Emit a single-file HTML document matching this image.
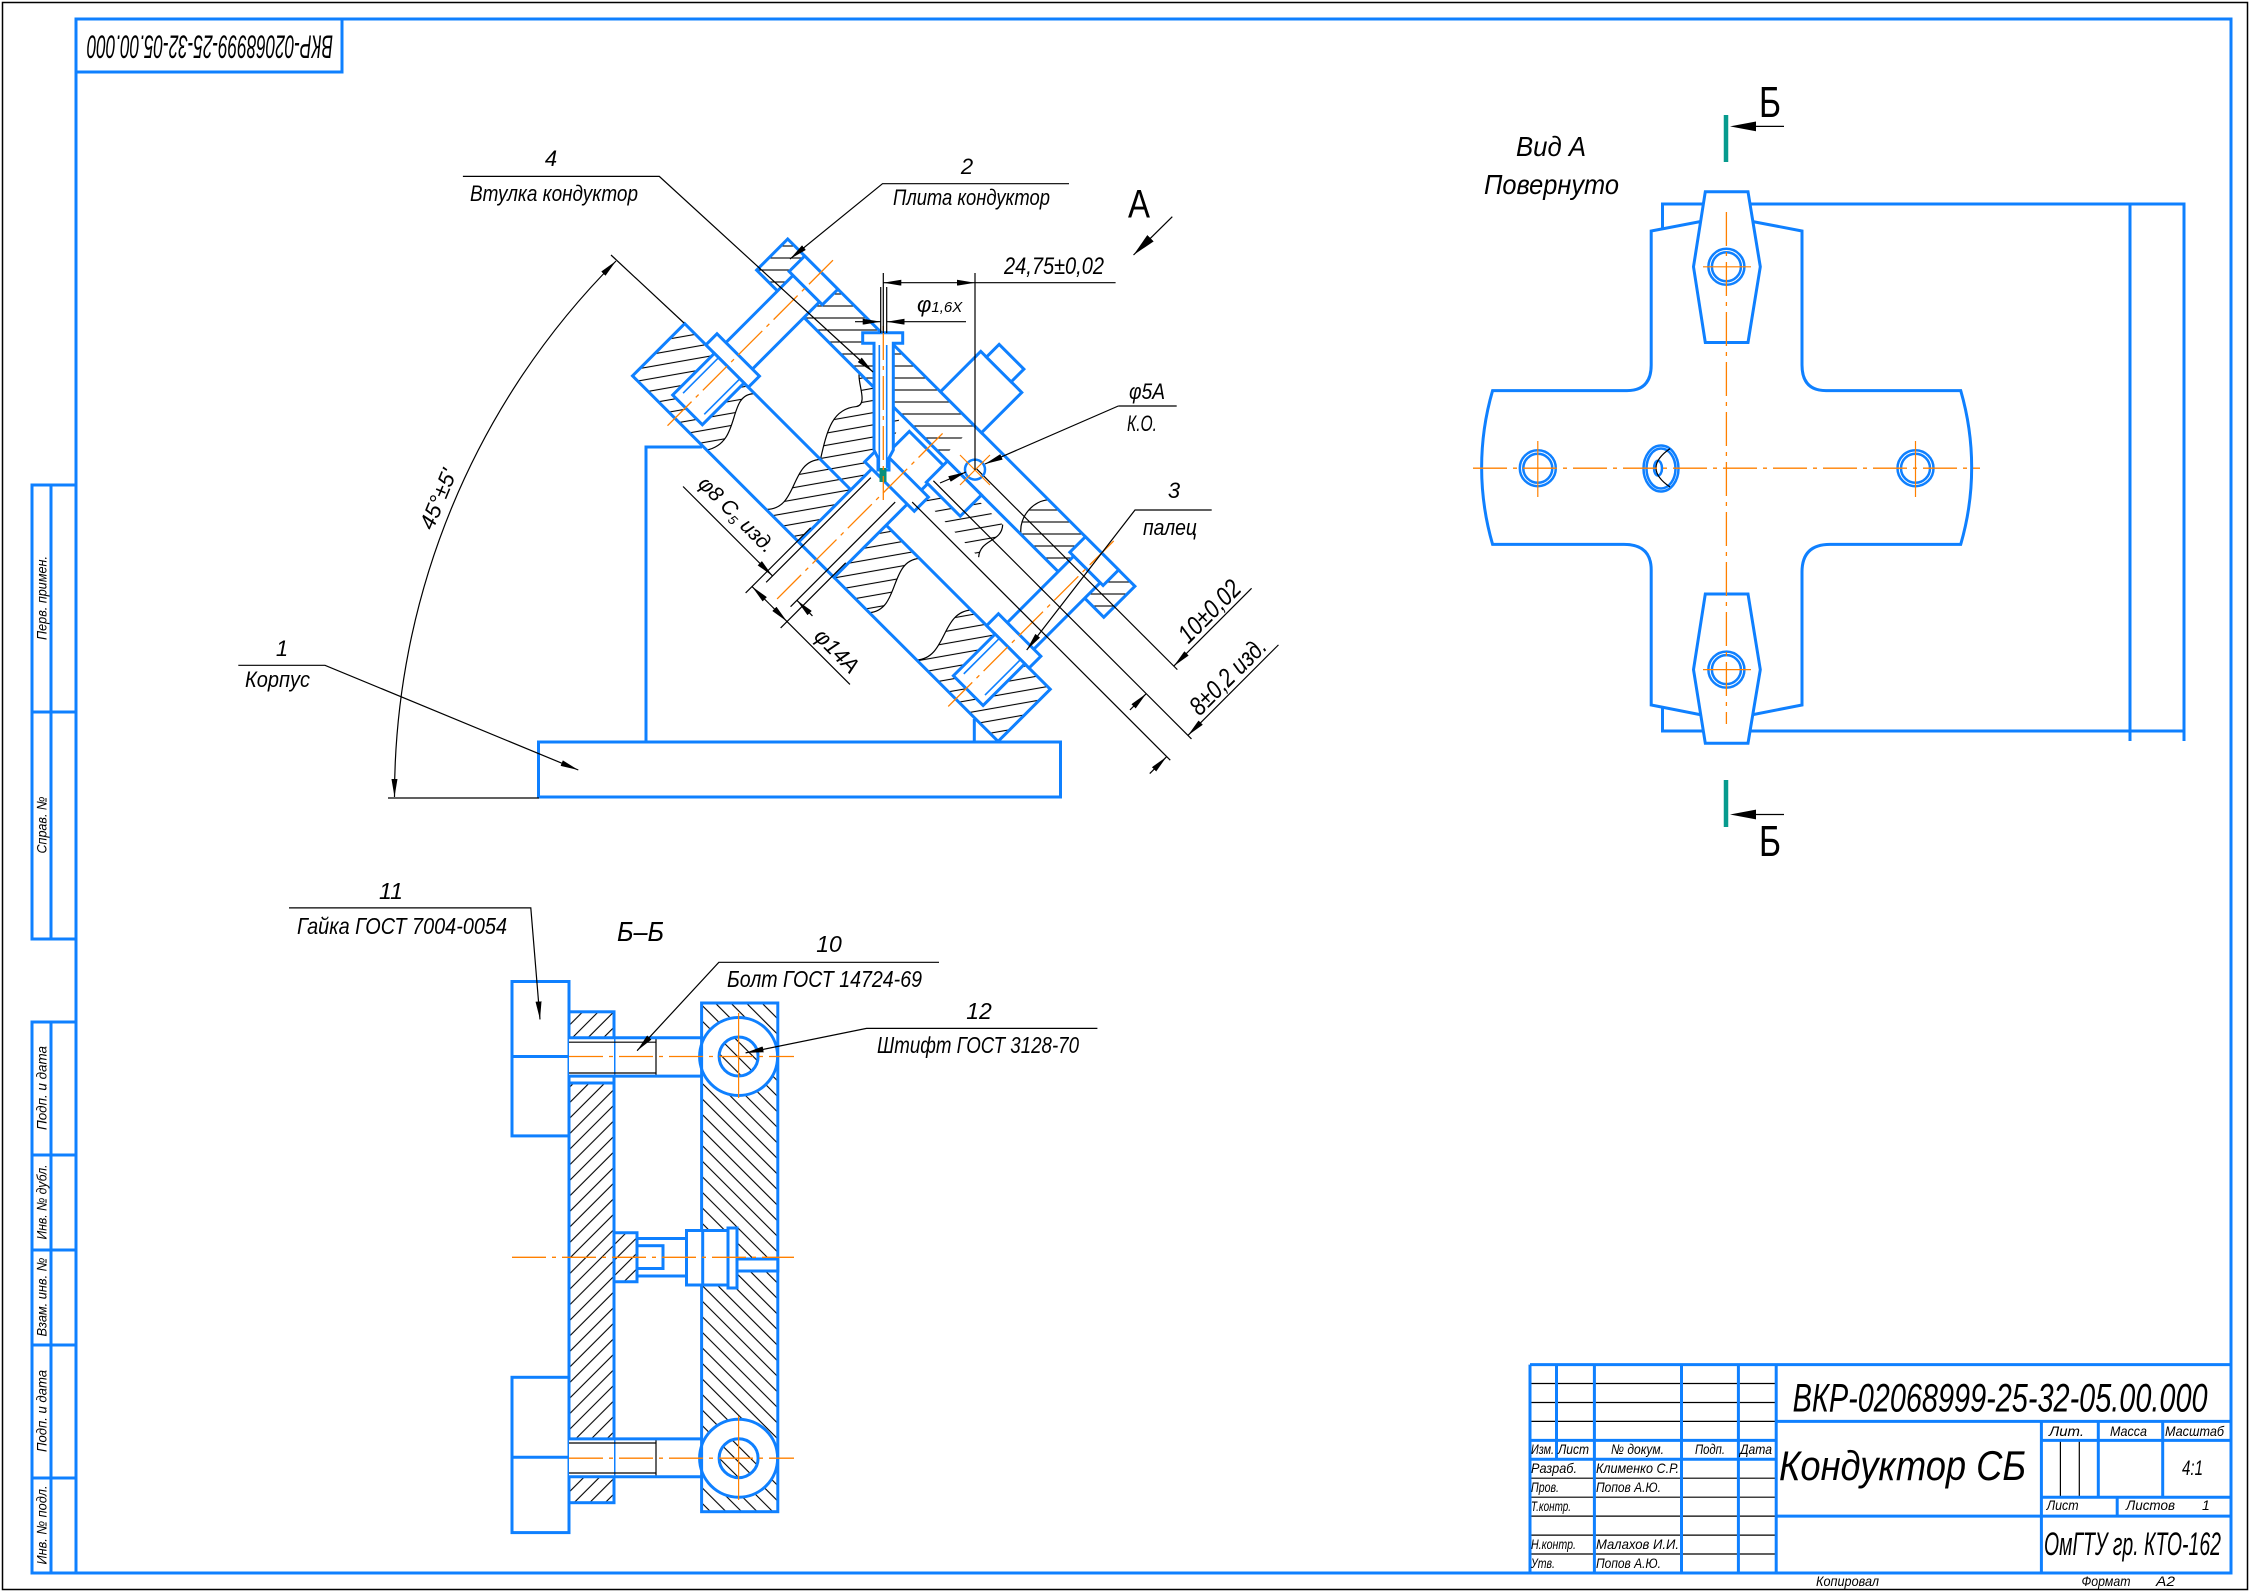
<!DOCTYPE html>
<html><head><meta charset="utf-8">
<style>
html,body{margin:0;padding:0;background:#fff}
svg{display:block}
text{font-family:"Liberation Sans","DejaVu Sans",sans-serif;font-style:italic;fill:#000}
.b{stroke:#0f80ff;stroke-width:3;fill:none}
.bf{stroke:#0f80ff;stroke-width:3;fill:#fff}
.bt{stroke:#0f80ff;stroke-width:1.6;fill:none}
.k{stroke:#000;stroke-width:1.2;fill:none}
.c{stroke:#ff8000;stroke-width:1.3;fill:none;stroke-dasharray:34 6 4 6}
.cs{stroke:#ff8000;stroke-width:1.2;fill:none}
.tl{stroke:#079b8e;stroke-width:4.5;fill:none}
</style></head><body>
<svg width="2250" height="1592" viewBox="0 0 2250 1592" xmlns="http://www.w3.org/2000/svg">
<defs>
 <pattern id="hf" patternUnits="userSpaceOnUse" width="11" height="11" patternTransform="rotate(-45)"><line x1="0" y1="5.5" x2="11" y2="5.5" stroke="#000" stroke-width="1.1"/></pattern>
 <pattern id="hb" patternUnits="userSpaceOnUse" width="11" height="11" patternTransform="rotate(45)"><line x1="0" y1="5.5" x2="11" y2="5.5" stroke="#000" stroke-width="1.1"/></pattern>
 <pattern id="hr" patternUnits="userSpaceOnUse" width="12" height="12" patternTransform="rotate(-55)"><line x1="0" y1="6" x2="12" y2="6" stroke="#000" stroke-width="1.1"/></pattern>
 <pattern id="hr0" patternUnits="userSpaceOnUse" width="12" height="12" patternTransform="rotate(-45)"><line x1="0" y1="6" x2="12" y2="6" stroke="#000" stroke-width="1.1"/></pattern>
 <marker id="a" viewBox="0 0 18 6" refX="18" refY="3" markerWidth="18" markerHeight="6" markerUnits="userSpaceOnUse" orient="auto"><path d="M0,0 L18,3 L0,6 Z" fill="#000"/></marker>
 <marker id="as" viewBox="0 0 18 6" refX="18" refY="3" markerWidth="18" markerHeight="6" markerUnits="userSpaceOnUse" orient="auto-start-reverse"><path d="M0,0 L18,3 L0,6 Z" fill="#000"/></marker>
 <marker id="aB" viewBox="0 0 24 9" refX="24" refY="4.5" markerWidth="24" markerHeight="9" markerUnits="userSpaceOnUse" orient="auto"><path d="M0,0 L24,4.5 L0,9 Z" fill="#000"/></marker>
</defs>

<rect x="2.5" y="2.5" width="2245" height="1587" fill="none" stroke="#000" stroke-width="1.5"/>
<rect x="76" y="19" width="2155" height="1554" class="b"/>

<rect x="76" y="19" width="266" height="53" class="b"/>
<text transform="translate(210,47.5) rotate(180)" x="0" y="12" text-anchor="middle" font-size="32" textLength="246" lengthAdjust="spacingAndGlyphs">ВКР-02068999-25-32-05.00.000</text>

<g class="b">
 <rect x="32" y="485" width="44" height="454"/>
 <line x1="51" y1="485" x2="51" y2="939"/>
 <line x1="32" y1="712" x2="76" y2="712"/>
 <rect x="32" y="1022" width="44" height="551"/>
 <line x1="51" y1="1022" x2="51" y2="1573"/>
 <line x1="32" y1="1155" x2="76" y2="1155"/>
 <line x1="32" y1="1250" x2="76" y2="1250"/>
 <line x1="32" y1="1345" x2="76" y2="1345"/>
 <line x1="32" y1="1478" x2="76" y2="1478"/>
</g>
<g font-size="14" text-anchor="middle">
 <text transform="translate(46.5,598) rotate(-90)" textLength="84" lengthAdjust="spacingAndGlyphs">Перв. примен.</text>
 <text transform="translate(46.5,825) rotate(-90)" textLength="57" lengthAdjust="spacingAndGlyphs">Справ. №</text>
 <text transform="translate(46.5,1088) rotate(-90)" textLength="84" lengthAdjust="spacingAndGlyphs">Подп. и дата</text>
 <text transform="translate(46.5,1202) rotate(-90)" textLength="75" lengthAdjust="spacingAndGlyphs">Инв. № дубл.</text>
 <text transform="translate(46.5,1297) rotate(-90)" textLength="79" lengthAdjust="spacingAndGlyphs">Взам. инв. №</text>
 <text transform="translate(46.5,1411) rotate(-90)" textLength="82" lengthAdjust="spacingAndGlyphs">Подп. и дата</text>
 <text transform="translate(46.5,1525) rotate(-90)" textLength="79" lengthAdjust="spacingAndGlyphs">Инв. № подл.</text>
</g>

<g class="k">
 <line x1="1530" y1="1383.5" x2="1776.2" y2="1383.5"/>
 <line x1="1530" y1="1402.5" x2="1776.2" y2="1402.5"/>
 <line x1="1530" y1="1421.4" x2="1776.2" y2="1421.4"/>
 <line x1="1530" y1="1478.2" x2="1776.2" y2="1478.2"/>
 <line x1="1530" y1="1497.2" x2="1776.2" y2="1497.2"/>
 <line x1="1530" y1="1516.1" x2="1776.2" y2="1516.1"/>
 <line x1="1530" y1="1535.1" x2="1776.2" y2="1535.1"/>
 <line x1="1530" y1="1554" x2="1776.2" y2="1554"/>
 <line x1="2060.4" y1="1440.4" x2="2060.4" y2="1497.2"/>
 <line x1="2079.3" y1="1440.4" x2="2079.3" y2="1497.2"/>
</g>
<g class="b">
 <line x1="1530" y1="1364.6" x2="2231" y2="1364.6"/>
 <line x1="1530" y1="1364.6" x2="1530" y2="1573"/>
 <line x1="1556.5" y1="1364.6" x2="1556.5" y2="1459.3"/>
 <line x1="1594.4" y1="1364.6" x2="1594.4" y2="1573"/>
 <line x1="1681.5" y1="1364.6" x2="1681.5" y2="1573"/>
 <line x1="1738.4" y1="1364.6" x2="1738.4" y2="1573"/>
 <line x1="1776.2" y1="1364.6" x2="1776.2" y2="1573"/>
 <line x1="2041.4" y1="1421.4" x2="2041.4" y2="1573"/>
 <line x1="1530" y1="1440.4" x2="1776.2" y2="1440.4"/>
 <line x1="1530" y1="1459.3" x2="1776.2" y2="1459.3"/>
 <line x1="1776.2" y1="1421.4" x2="2231" y2="1421.4"/>
 <line x1="2041.4" y1="1440.4" x2="2231" y2="1440.4"/>
 <line x1="2041.4" y1="1497.2" x2="2231" y2="1497.2"/>
 <line x1="1776.2" y1="1516.1" x2="2231" y2="1516.1"/>
 <line x1="2098.3" y1="1421.4" x2="2098.3" y2="1497.2"/>
 <line x1="2162.7" y1="1421.4" x2="2162.7" y2="1497.2"/>
 <line x1="2117.2" y1="1497.2" x2="2117.2" y2="1516.1"/>
</g>
<text x="1792.6" y="1411.7" font-size="40" textLength="415" lengthAdjust="spacingAndGlyphs">ВКР-02068999-25-32-05.00.000</text>
<text x="1779" y="1480" font-size="42" textLength="247" lengthAdjust="spacingAndGlyphs">Кондуктор СБ</text>
<text x="2044" y="1555" font-size="32" textLength="177" lengthAdjust="spacingAndGlyphs">ОмГТУ гр. КТО-162</text>
<g font-size="14">
 <text x="1531" y="1454" textLength="23" lengthAdjust="spacingAndGlyphs">Изм.</text>
 <text x="1558" y="1454" textLength="31" lengthAdjust="spacingAndGlyphs">Лист</text>
 <text x="1611" y="1454" textLength="53" lengthAdjust="spacingAndGlyphs">№ докум.</text>
 <text x="1695" y="1454" textLength="30" lengthAdjust="spacingAndGlyphs">Подп.</text>
 <text x="1740" y="1454" textLength="32" lengthAdjust="spacingAndGlyphs">Дата</text>
 <text x="1531" y="1473" textLength="46" lengthAdjust="spacingAndGlyphs">Разраб.</text>
 <text x="1596" y="1473" textLength="83" lengthAdjust="spacingAndGlyphs">Клименко С.Р.</text>
 <text x="1531" y="1492" textLength="28" lengthAdjust="spacingAndGlyphs">Пров.</text>
 <text x="1596" y="1492" textLength="65" lengthAdjust="spacingAndGlyphs">Попов А.Ю.</text>
 <text x="1531" y="1511" textLength="40" lengthAdjust="spacingAndGlyphs">Т.контр.</text>
 <text x="1531" y="1549" textLength="45" lengthAdjust="spacingAndGlyphs">Н.контр.</text>
 <text x="1596" y="1549" textLength="83" lengthAdjust="spacingAndGlyphs">Малахов И.И.</text>
 <text x="1531" y="1568" textLength="24" lengthAdjust="spacingAndGlyphs">Утв.</text>
 <text x="1596" y="1568" textLength="65" lengthAdjust="spacingAndGlyphs">Попов А.Ю.</text>
 <text x="2049" y="1436" textLength="35" lengthAdjust="spacingAndGlyphs">Лит.</text>
 <text x="2110" y="1436" textLength="37" lengthAdjust="spacingAndGlyphs">Масса</text>
 <text x="2165" y="1436" textLength="59" lengthAdjust="spacingAndGlyphs">Масштаб</text>
 <text x="2046.6" y="1510" textLength="32" lengthAdjust="spacingAndGlyphs">Лист</text>
 <text x="2126" y="1510" textLength="49" lengthAdjust="spacingAndGlyphs">Листов</text>
 <text x="2202" y="1510">1</text>
 <text x="1816" y="1586" textLength="63" lengthAdjust="spacingAndGlyphs">Копировал</text>
 <text x="2081.5" y="1586" textLength="49" lengthAdjust="spacingAndGlyphs">Формат</text>
 <text x="2156" y="1586" textLength="19" lengthAdjust="spacingAndGlyphs">А2</text>
</g>
<text x="2182" y="1475" font-size="21" textLength="21" lengthAdjust="spacingAndGlyphs">4:1</text>

<rect x="538.5" y="742" width="522" height="55" class="b"/>
<path d="M646,742 V447 H702" class="b"/>
<path d="M974.3,719 V742" class="b"/>

<g transform="rotate(45)">
 <path d="M713,-255.3 L812,-255.3 C792,-235 838,-212 818,-181.5 L713,-181.5 Z" fill="url(#hr)"/>
 <path d="M872,-343 L930,-343 L985,-255.3 L1045,-255.3 C1025,-232 1068,-205 1048,-181.5 L902,-181.5 C925,-205 884,-232 905,-255.3 C888,-282 878,-300 893,-318 C900,-328 878,-335 872,-343 Z" fill="url(#hr)"/>
 <path d="M1118,-255.3 L1230,-255.3 L1230,-181.5 L1115,-181.5 C1135,-205 1098,-232 1118,-255.3 Z" fill="url(#hr)"/>
 <rect x="726" y="-388" width="264" height="44" fill="url(#hr0)"/>
 <path d="M1095,-388 L1217,-388 L1217,-344 L1100,-344 C1085,-355 1085,-378 1095,-388 Z" fill="url(#hr0)"/>
 <path d="M1005,-338 L1080,-338 C1092,-325 1074,-312 1086,-298 L1008,-300 Z" fill="url(#hr)"/>
 <g class="k">
  <path d="M812,-255.3 C792,-235 838,-212 818,-181.5"/>
  <path d="M1045,-255.3 C1025,-232 1068,-205 1048,-181.5"/>
  <path d="M902,-181.5 C925,-205 884,-232 905,-255.3 C888,-282 878,-300 893,-318 C900,-328 878,-335 872,-343"/>
  <path d="M1115,-181.5 C1135,-205 1098,-232 1118,-255.3"/>
  <path d="M1080,-338 C1092,-325 1074,-312 1086,-298"/>
  <path d="M1100,-344 C1085,-355 1085,-378 1095,-388"/>
 </g>
 <rect x="713" y="-255.3" width="517" height="73.8" class="b"/>
 <rect x="726" y="-388" width="491" height="44" class="b"/>
 <rect x="755.5" y="-366" width="37.5" height="95" class="bf"/>
 <rect x="750" y="-388" width="47" height="22" class="bf"/>
 <rect x="743" y="-271" width="60" height="15.7" class="bf"/>
 <rect x="755" y="-255.3" width="42" height="59" class="bf"/>
 <path d="M761,-255 V-205 M791,-255 V-205" class="bt"/>
 <line x1="773" y1="-405" x2="773" y2="-170" class="c"/>
 <rect x="1152.5" y="-366" width="37.5" height="95" class="bf"/>
 <rect x="1147" y="-388" width="47" height="22" class="bf"/>
 <rect x="1140" y="-272" width="60" height="16.7" class="bf"/>
 <rect x="1152" y="-255.3" width="42" height="59" class="bf"/>
 <path d="M1158,-255 V-205 M1188,-255 V-205" class="bt"/>
 <line x1="1170" y1="-405" x2="1170" y2="-170" class="c"/>
 <rect x="948" y="-338" width="50" height="156.5" class="bf"/>
 <rect x="938" y="-305" width="70" height="20" class="bf"/>
 <line x1="973" y1="-360" x2="973" y2="-125" class="c"/>
 <rect x="942" y="-445" width="58" height="57" class="bf"/>
 <rect x="950" y="-463" width="35" height="18" class="bf"/>
 <rect x="996" y="-344" width="48" height="30" class="bf"/>
 <g class="k">
  <path d="M1022,-359 H1306"/>
  <path d="M1000,-320 H1365"/>
  <path d="M1000,-290 H1365"/>
  <path d="M953.5,-278 V-130"/>
  <path d="M988,-278 V-130"/>
  <path d="M946.5,-200 V-108"/>
  <path d="M996,-200 V-108"/>
  <path d="M1301,-469 V-359" marker-end="url(#a)"/>
  <path d="M1301,-297 V-320" marker-end="url(#a)"/>
  <path d="M1360,-448 V-320" marker-end="url(#a)"/>
  <path d="M1360,-266 V-290" marker-end="url(#a)"/>
  <path d="M827,-139 H953.5" marker-end="url(#a)"/>
  <path d="M1010,-139 H988" marker-end="url(#a)"/>
  <path d="M971,-117 H946.5" marker-end="url(#a)"/>
  <path d="M971,-117 H996" marker-end="url(#a)"/>
  <path d="M996,-117 H1085"/>
 </g>
</g>

<path d="M862.7,332.7 H902.7 V343.3 H893.3 V450 L889,458 V470 H878 V458 L874,450 V343.3 H862.7 Z" class="bf"/>
<path d="M879.3,345 V468 M886.7,345 V468" class="bt"/>
<rect x="879.5" y="468" width="7" height="14" fill="#0a8f7a"/>
<line x1="883.3" y1="326" x2="883.3" y2="500" class="c"/>

<circle cx="975" cy="469.6" r="10" class="b" style="stroke-width:2.5"/>
<path d="M960,455 L990,485 M990,455 L960,485" class="cs"/>

<g class="k">
 <path d="M883.3,273 V333"/>
 <path d="M975,273 V470"/>
 <path d="M930,282.7 H883.3" marker-end="url(#a)"/>
 <path d="M930,282.7 H975" marker-end="url(#a)"/>
 <path d="M975,282.7 H1115.6"/>
 <path d="M880.7,287 V333 M886.7,287 V333"/>
 <path d="M855,321.7 H880.7" marker-end="url(#a)"/>
 <path d="M966,321.7 H886.7" marker-end="url(#a)"/>
 <path d="M1118.3,406 H1176.7"/>
 <path d="M1118.3,406 L985,464" marker-end="url(#a)"/>
 <path d="M940,483 L966,472" marker-end="url(#a)"/>
 <path d="M394.5,797 A758,758 0 0 1 616,261" marker-start="url(#as)" marker-end="url(#a)"/>
 <path d="M388,798 H539"/>
 <path d="M611,255 L684,323"/>
 <path d="M462.9,176.4 H659.3 L873,372" marker-end="url(#a)"/>
 <path d="M1069,183.7 H882.5 L790,259" marker-end="url(#a)"/>
 <path d="M1211.7,510 H1135 L1026.7,650" marker-end="url(#a)"/>
 <path d="M238.3,665.3 H325 L578.3,770" marker-end="url(#a)"/>
 <path d="M1172.3,216.7 L1133.5,255" marker-end="url(#aB)"/>
</g>

<g font-size="22">
 <text x="551" y="166" text-anchor="middle">4</text>
 <text x="470" y="201" textLength="168" lengthAdjust="spacingAndGlyphs">Втулка кондуктор</text>
 <text x="967" y="174" text-anchor="middle">2</text>
 <text x="893" y="205" textLength="157" lengthAdjust="spacingAndGlyphs">Плита кондуктор</text>
 <text x="1174" y="498" text-anchor="middle">3</text>
 <text x="1143" y="535" textLength="54" lengthAdjust="spacingAndGlyphs">палец</text>
 <text x="282" y="656" text-anchor="middle">1</text>
 <text x="245" y="687" textLength="65" lengthAdjust="spacingAndGlyphs">Корпус</text>
</g>
<text x="1139" y="217.5" font-size="40" text-anchor="middle" style="font-style:normal" textLength="22" lengthAdjust="spacingAndGlyphs">А</text>
<text x="1004" y="274" font-size="24" textLength="100" lengthAdjust="spacingAndGlyphs">24,75±0,02</text>
<text x="917" y="312" font-size="22">φ<tspan font-size="15">1,6X</tspan></text>
<text x="1129" y="399" font-size="22" textLength="36" lengthAdjust="spacingAndGlyphs">φ5A</text>
<text x="1127" y="431" font-size="22" textLength="30" lengthAdjust="spacingAndGlyphs">К.О.</text>
<text transform="translate(1215.6,617.4) rotate(-45)" text-anchor="middle" font-size="26" textLength="77" lengthAdjust="spacingAndGlyphs">10±0,02</text>
<text transform="translate(1234,682.4) rotate(-45)" text-anchor="middle" font-size="26" textLength="97" lengthAdjust="spacingAndGlyphs">8±0,2 изд.</text>
<text transform="translate(731.7,519.6) rotate(45)" text-anchor="middle" font-size="21">φ8 C<tspan font-size="13" dy="4">5</tspan><tspan dy="-4"> изд.</tspan></text>
<text transform="translate(831.6,656.2) rotate(45)" text-anchor="middle" font-size="22" textLength="53" lengthAdjust="spacingAndGlyphs">φ14A</text>
<text transform="translate(444.9,502) rotate(-67.4)" text-anchor="middle" font-size="22" textLength="63" lengthAdjust="spacingAndGlyphs">45°±5'</text>

<g class="b">
 <path d="M1662.5,232 V204 H2184 V741"/>
 <path d="M2130,204 V741"/>
 <path d="M1662.5,704 V731 H2184"/>
 <path class="bf" d="M1651.2,365 V231 L1700,221.6 L1753,221.6 L1802,231 V365 Q1802,390.6 1826,390.6 H1960.7 A275,275 0 0 1 1960.7,544.4 H1830 Q1802,544.4 1802,572 V705 L1753,714.6 L1700,714.6 L1651.2,705 V570 Q1651.2,544.4 1624,544.4 H1492.6 A275,275 0 0 1 1492.6,390.6 H1627 Q1651.2,390.6 1651.2,365 Z"/>
 <path class="bf" d="M1705.3,191.7 H1748 L1760.3,266.8 L1748,342.5 H1705.3 L1693.5,266.8 Z"/>
 <path class="bf" d="M1705.3,594 H1748 L1760.3,669.6 L1748,743.3 H1705.3 L1693.5,669.6 Z"/>
</g>
<g class="b" style="stroke-width:2.5">
 <circle cx="1726.4" cy="266.8" r="18"/><circle cx="1726.4" cy="266.8" r="14.5"/>
 <circle cx="1726.4" cy="669.6" r="18"/><circle cx="1726.4" cy="669.6" r="14.5"/>
 <circle cx="1537.8" cy="468.2" r="18"/><circle cx="1537.8" cy="468.2" r="14.5"/>
 <circle cx="1915.5" cy="468.2" r="18"/><circle cx="1915.5" cy="468.2" r="14.5"/>
 <ellipse cx="1661" cy="468.5" rx="17.5" ry="23"/>
 <ellipse cx="1661" cy="468.5" rx="14.5" ry="20"/>
 <ellipse cx="1658" cy="468.2" rx="4" ry="7.4"/>
</g>
<path d="M1670,448.6 Q1642,468 1670,487" class="k"/>
<line x1="1473" y1="468.2" x2="1980" y2="468.2" class="c"/>
<line x1="1726.4" y1="212" x2="1726.4" y2="724" class="c"/>
<path d="M1537.8,441 V497 M1915.5,441 V497 M1703,266.8 H1751 M1703,669.6 H1751" class="cs"/>
<text x="1516" y="156" font-size="28" textLength="70" lengthAdjust="spacingAndGlyphs">Вид А</text>
<text x="1484" y="194" font-size="28" textLength="135" lengthAdjust="spacingAndGlyphs">Повернуто</text>
<path d="M1726,115 V162 M1726,780 V827" class="tl"/>
<path d="M1784,126.4 H1740 M1784,814.5 H1740" class="k"/>
<path d="M1730,126.4 L1756,121.5 L1756,131.3 Z M1730,814.5 L1756,809.6 L1756,819.4 Z" fill="#000"/>
<text x="1759" y="117" font-size="44" style="font-style:normal" textLength="22" lengthAdjust="spacingAndGlyphs">Б</text>
<text x="1759" y="856" font-size="44" style="font-style:normal" textLength="22" lengthAdjust="spacingAndGlyphs">Б</text>

<rect x="569" y="1011.8" width="45" height="25.9" fill="url(#hf)"/>
<rect x="569" y="1083" width="45" height="356" fill="url(#hf)"/>
<rect x="569" y="1476.8" width="45" height="25.9" fill="url(#hf)"/>
<rect x="614" y="1232.7" width="23" height="49.1" fill="url(#hf)"/>
<rect x="701.6" y="1003" width="76.2" height="508.7" fill="url(#hb)"/>
<g class="bf">
 <circle cx="738.6" cy="1056.5" r="39"/>
 <circle cx="738.6" cy="1458.2" r="39"/>
</g>
<circle cx="738.6" cy="1056.5" r="19.5" class="b" style="fill:url(#hb)"/>
<circle cx="738.6" cy="1458.2" r="19.5" class="b" style="fill:url(#hb)"/>
<g class="b">
 <rect x="512" y="981.5" width="57" height="154.4"/>
 <line x1="512" y1="1056.5" x2="569" y2="1056.5"/>
 <rect x="512" y="1377.3" width="57" height="155.3"/>
 <line x1="512" y1="1457.2" x2="569" y2="1457.2"/>
 <rect x="569" y="1011.8" width="45" height="490.9"/>
 <path d="M614,1232.7 H637 V1281.8 H614"/>
 <rect x="701.6" y="1003" width="76.2" height="508.7"/>
</g>
<rect x="569" y="1038.5" width="45" height="37" fill="#fff"/>
<rect x="569" y="1439.7" width="45" height="36.3" fill="#fff"/>
<g class="k">
 <path d="M569,1042.2 H656 M569,1073 H656 M656,1037.7 V1076.1"/>
 <path d="M569,1443 H656 M569,1473 H656 M656,1438.9 V1476.8"/>
</g>
<path d="M569,1037.7 H701.6 M569,1076.1 H701.6 M569,1083 H614 M569,1438.9 H701.6 M569,1476.8 H701.6 M614,1011.8 V1037.7 M614,1083 V1438.9 M614,1476.8 V1502.7" class="b"/>
<rect x="637" y="1238.5" width="49.5" height="37.5" class="bf"/>
<rect x="637" y="1245.7" width="26" height="22.8" class="b"/>
<rect x="686.5" y="1230.5" width="43.5" height="54.5" class="bf"/>
<rect x="728" y="1228" width="9" height="60" class="bf"/>
<line x1="702.7" y1="1230.5" x2="702.7" y2="1285" class="b"/>
<rect x="737" y="1259" width="40.8" height="12" class="bf"/>
<line x1="569" y1="1056.5" x2="794" y2="1056.5" class="c"/>
<line x1="512" y1="1257.3" x2="794" y2="1257.3" class="c"/>
<line x1="569" y1="1458.2" x2="794" y2="1458.2" class="c"/>
<path d="M738.6,1013 V1098 M738.6,1416 V1500" class="cs"/>
<g class="k">
 <path d="M289,907.9 H530.8 L540,1019.4" marker-end="url(#a)"/>
 <path d="M939,962.3 H718.8 L637.1,1050.7" marker-end="url(#a)"/>
 <path d="M1097.4,1028.4 H866.5 L745.6,1052.9" marker-end="url(#a)"/>
</g>
<g font-size="23">
 <text x="391" y="899" text-anchor="middle">11</text>
 <text x="297" y="934" textLength="210" lengthAdjust="spacingAndGlyphs">Гайка ГОСТ 7004-0054</text>
 <text x="829" y="952" text-anchor="middle">10</text>
 <text x="727" y="987" textLength="195" lengthAdjust="spacingAndGlyphs">Болт ГОСТ 14724-69</text>
 <text x="979" y="1019" text-anchor="middle">12</text>
 <text x="877" y="1053" textLength="202" lengthAdjust="spacingAndGlyphs">Штифт ГОСТ 3128-70</text>
</g>
<text x="617" y="941" font-size="28" textLength="47" lengthAdjust="spacingAndGlyphs">Б–Б</text>
</svg>
</body></html>
